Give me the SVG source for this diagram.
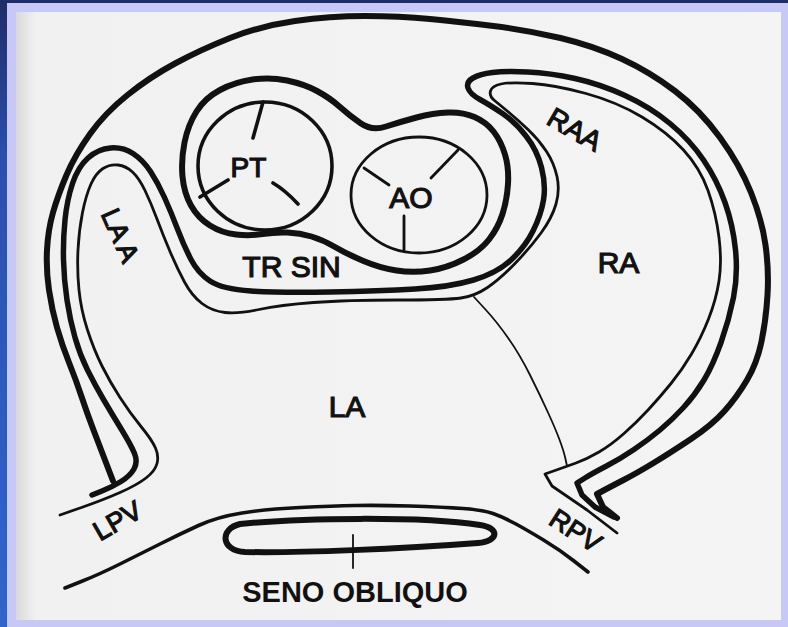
<svg xmlns="http://www.w3.org/2000/svg" width="788" height="627" viewBox="0 0 788 627">
  <defs>
    <linearGradient id="edgeBlue" x1="0" y1="0" x2="0" y2="1">
      <stop offset="0" stop-color="#1f2c66"/>
      <stop offset="0.25" stop-color="#2a4fae"/>
      <stop offset="1" stop-color="#2f64cc"/>
    </linearGradient>
    <linearGradient id="pageShade" x1="0" y1="0" x2="1" y2="0">
      <stop offset="0" stop-color="#d9d9d9"/>
      <stop offset="0.025" stop-color="#f1f1f1"/>
      <stop offset="1" stop-color="#f4f4f4"/>
    </linearGradient>
    <style>
      .ln { fill: none; stroke: #111; stroke-linecap: round; stroke-linejoin: round; }
      .w5 { stroke-width: 6; }
      .w4 { stroke-width: 5.5; }
      .w3 { stroke-width: 3.6; }
      .w2 { stroke-width: 2.8; }
      .w1 { stroke-width: 1.8; }
      .lbl { font-family: "Liberation Sans", Arial, sans-serif; fill: #111; stroke: #111; stroke-width: 1.2; }
      .bold { font-family: "Liberation Sans", Arial, sans-serif; font-weight: bold; fill: #111; }
    </style>
  </defs>

  <!-- frame and page -->
  <rect x="0" y="0" width="788" height="627" fill="#c8c8f6"/>
  <rect x="0" y="0" width="788" height="3" fill="#1f2c66"/>
  <rect x="0" y="0" width="7" height="627" fill="url(#edgeBlue)"/>
  <rect x="16" y="12" width="765" height="608" fill="url(#pageShade)"/>

  <!-- outer pericardial line -->
  <g id="pericardium">
    <path class="ln w5" d="M113,481 L106.5,464 Q100,447 93.5,430 Q87,413 81.5,396.5 Q76,380 69,362.5 Q62,345 57,327.5 Q52,310 49,290 Q46,270 47,250 Q48,230 53,212.5 Q58,195 66.5,175 Q75,155 90,134 Q105,113 127.5,95 Q150,77 175,63.5 Q200,50 230,38 Q260,26 295,21 Q330,16 365,16 Q400,16 430,19 Q460,22 493.5,26 Q527,30 560.5,38 Q594,46 622,59 Q650,72 675,91 Q700,110 720,137.5 Q740,165 751,192.5 Q762,220 765.5,245 Q769,270 767.5,295 Q766,320 761.5,341.5 Q757,363 747,380 Q737,397 724.5,411 Q712,425 691,439 Q670,453 653.5,463 Q637,473 623.5,480 Q610,487 603.5,490.5 L597,494 L603,507 L617,518"/>
  </g>

  <!-- atrial outer wall with both appendages -->
  <g id="atria-outer">
    <path class="ln w4" d="M92,495 L102,491 Q112,487 121,481.5 Q130,476 134,469 Q138,462 134.5,453.5 Q131,445 121.5,429.5 Q112,414 103.5,399.5 Q95,385 87.5,370 Q80,355 75,337.5 Q70,320 67,300 Q64,280 63.5,260 Q63,240 65,220 Q67,200 72.5,183.5 Q78,167 88,158 Q98,149 110.5,148 Q123,147 133,153.5 Q143,160 150.5,171.5 Q158,183 164.5,197.5 Q171,212 177.5,229 Q184,246 191,259.5 Q198,273 210,281 Q222,289 251,291 Q280,293 330,292 Q380,291 415,289 Q450,287 473.5,280 Q497,273 511,260 Q525,247 533,231 Q541,215 543.5,200 Q546,185 541.5,167.5 Q537,150 526,136 Q515,122 502.5,113.5 Q490,105 480,99.5 Q470,94 468,88 Q466,82 473,78 Q480,74 492.5,72.5 Q505,71 527.5,72 Q550,73 575,78.5 Q600,84 625,95.5 Q650,107 670,123.5 Q690,140 703.5,160 Q717,180 725,202.5 Q733,225 735.5,250 Q738,275 733.5,297.5 Q729,320 721,342.5 Q713,365 704,380 Q695,395 683.5,407.5 Q672,420 660,430 Q648,440 634,449.5 Q620,459 606.5,466 Q593,473 585,478 L577,483 L582,495 L595,507 L614,517"/>
  </g>

  <!-- atrial inner wall, continuing into the pulmonary veins -->
  <g id="atria-inner">
    <path class="ln w2" d="M60,515 L81.5,507.5 Q103,500 120,492.5 Q137,485 146,478 Q155,471 157,463.5 Q159,456 155.5,448 Q152,440 141,426.5 Q130,413 120,397.5 Q110,382 102,366 Q94,350 87.5,330 Q81,310 79,290 Q77,270 78,250 Q79,230 82.5,212.5 Q86,195 91,184 Q96,173 103,168.5 Q110,164 118,165 Q126,166 132.5,172 Q139,178 145,190.5 Q151,203 157,219 Q163,235 170,251.5 Q177,268 184.5,282 Q192,296 202,303.5 Q212,311 225,312.5 Q238,314 259,309.5 Q280,305 313.5,302.5 Q347,300 397,300 Q447,300 461,298 Q475,296 487.5,287.5 Q500,279 515,263.5 Q530,248 541,233 Q552,218 556,204 Q560,190 557,176.5 Q554,163 546.5,151.5 Q539,140 528.5,130 Q518,120 509,112.5 Q500,105 494.5,100.5 Q489,96 490.5,91 Q492,86 501,84 Q510,82 532.5,83.5 Q555,85 586,93.5 Q617,102 642,117 Q667,132 683.5,150 Q700,168 708,190.5 Q716,213 719,237.5 Q722,262 719,281 Q716,300 708.5,319 Q701,338 691.5,354 Q682,370 671,383.5 Q660,397 648.5,409.5 Q637,422 624,433.5 Q611,445 599,452 Q587,459 576,463 Q565,467 555,470.5 L545,474 L552,486 L587,510 L617,533"/>
  </g>

  <!-- interatrial line -->
  <g id="septum">
    <path class="ln w1" d="M474,297 L485.5,309.5 Q497,322 508.5,338.5 Q520,355 530,375 Q540,395 548,412.5 Q556,430 560,441 Q564,452 565.5,459 L567,466"/>
  </g>

  <!-- sleeve around the great arteries -->
  <g id="arterial-sleeve">
    <path class="ln w5" d="M502.5,214 Q507,200 508,184 Q509,168 505,154.5 Q501,141 493.5,131.5 Q486,122 474.5,117 Q463,112 448,112.5 Q433,113 416.5,117.5 Q400,122 386,126.5 Q372,131 361,123.5 Q350,116 340,107 Q330,98 317,91 Q304,84 287,80.5 Q270,77 252.5,79.5 Q235,82 220,90 Q205,98 196.5,111.5 Q188,125 184.5,142.5 Q181,160 182.5,176.5 Q184,193 191,205.5 Q198,218 210,225.5 Q222,233 236,234.5 Q250,236 262.5,234 Q275,232 287.5,232.5 Q300,233 311.5,236.5 Q323,240 335,247 Q347,254 363.5,261 Q380,268 396.5,270.5 Q413,273 430,270.5 Q447,268 463.5,259.5 Q480,251 489,239.5 Q498,228 502.5,214 Z"/>
  </g>

  <g id="pt">
    <ellipse class="ln w3" cx="265" cy="166" rx="67" ry="64"/>
    <path class="ln w3" d="M263,102 L253,138 M200,197 L228,180 M273,183 Q285,190 298,204"/>
    <text class="lbl" x="248.5" y="177" font-size="28" text-anchor="middle">PT</text>
  </g>

  <g id="ao">
    <ellipse class="ln w2" cx="419" cy="195" rx="68" ry="58"/>
    <path class="ln w2" d="M364,168 L389,185 M458,150 L431,178 M404,216 L404,250"/>
    <text class="lbl" x="411" y="208" font-size="30" text-anchor="middle">AO</text>
  </g>

  <!-- oblique sinus and the line beneath the left atrium -->
  <g id="seno-obliquo">
    <path class="ln w3" d="M65,588 L82.5,581 Q100,574 120,564 Q140,554 160,544 Q180,534 198.5,525.5 Q217,517 242,513 Q267,509 300,507.5 Q333,506 355,505.5 Q377,505 410,506 Q443,507 463,508.5 Q483,510 493,513.5 Q503,517 515,523.5 Q527,530 543.5,540 Q560,550 574,561 L588,572"/>
    <path class="ln w5" d="M240,524 C300,518 420,516 480,525 C500,528 499,541 478,543 C400,549 300,553 245,552 C221,551 219,529 240,524 Z"/>
    <path class="ln w1" d="M353,535 L353,568"/>
    <text class="bold" x="355" y="602" font-size="29" text-anchor="middle">SENO OBLIQUO</text>
  </g>

  <!-- chamber and vessel labels -->
  <g id="labels">
    <text class="lbl" x="291.5" y="277" font-size="30" text-anchor="middle">TR SIN</text>
    <text class="lbl" x="618.5" y="273" font-size="30" text-anchor="middle">RA</text>
    <text class="lbl" x="347" y="417" font-size="30" text-anchor="middle">LA</text>
    <text class="lbl" font-size="28" text-anchor="middle" transform="translate(575,129) rotate(30)" x="0" y="10">RAA</text>
    <text class="lbl" font-size="27" text-anchor="middle" transform="translate(121,235) rotate(66)" x="0" y="10">LA A</text>
    <text class="lbl" font-size="27" text-anchor="middle" transform="translate(117,520) rotate(-30)" x="0" y="10">LPV</text>
    <text class="lbl" font-size="27" text-anchor="middle" transform="translate(576,530) rotate(33)" x="0" y="10">RPV</text>
  </g>
</svg>
